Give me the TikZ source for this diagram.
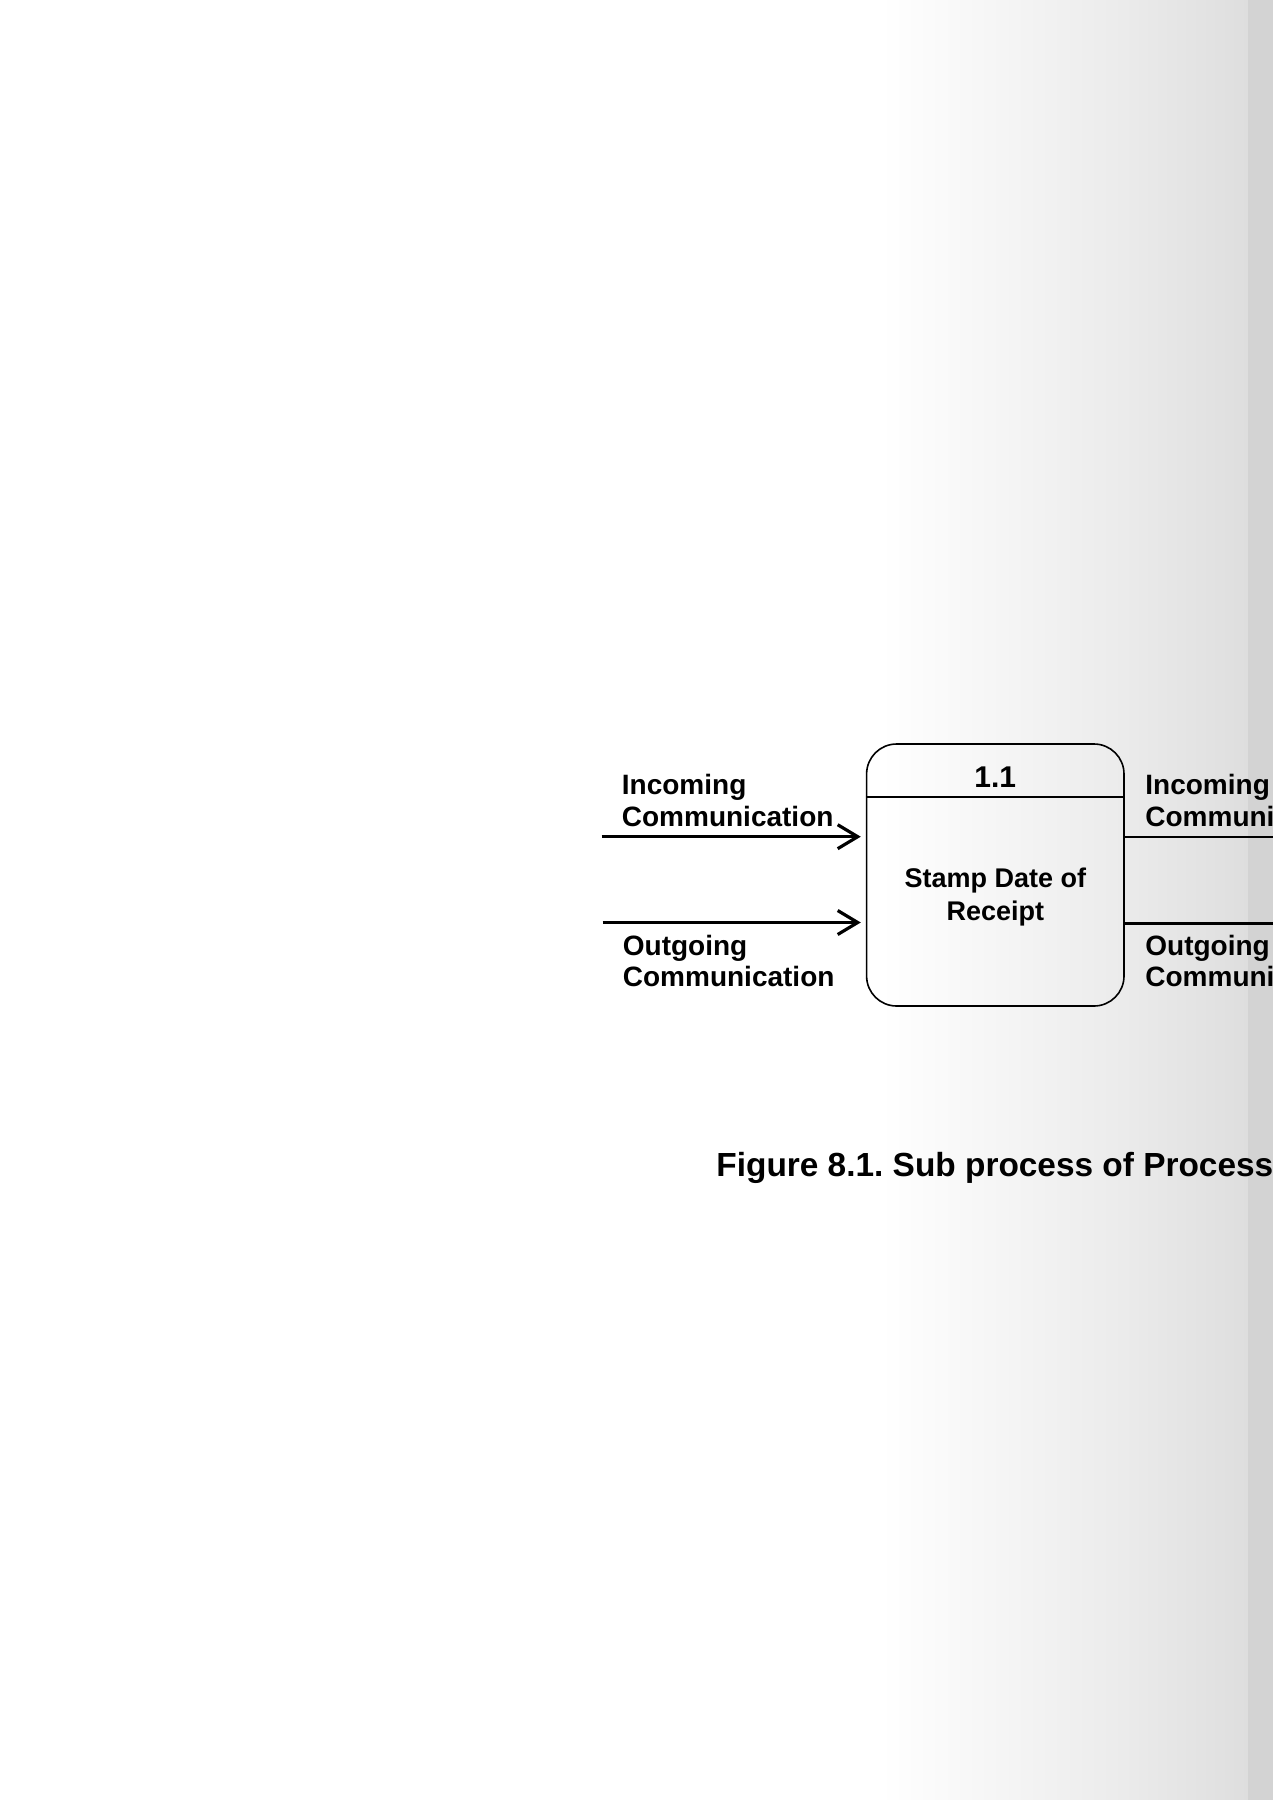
\documentclass[tikz,border=0pt]{standalone}
\usepackage{fontspec}
\setmainfont{Liberation Sans}
\usetikzlibrary{arrows.meta}
\definecolor{shadeA}{HTML}{EBEBEB}
\definecolor{shadeB}{HTML}{DEDEDE}
\definecolor{shadeC}{HTML}{D3D3D3}
\frenchspacing
\begin{document}
\begin{tikzpicture}[x=0.5pt,y=-0.5pt,
  flowlabel/.style={font=\fontsize{14pt}{15.75pt}\selectfont\bfseries, align=left, inner sep=0pt, anchor=north west},
  procbox/.style={draw, line width=0.8pt, rounded corners=15pt, minimum width=128.7pt, minimum height=131pt, inner sep=0pt},
  numstyle/.style={font=\fontsize{15pt}{18pt}\selectfont\bfseries, inner sep=0pt},
  namestyle/.style={font=\fontsize{13.5pt}{16.5pt}\selectfont\bfseries, align=center, inner sep=0pt},
  captionstyle/.style={font=\fontsize{16.7pt}{19pt}\selectfont\bfseries, inner sep=0pt},
  flowarrow/.style={line width=1.6pt, -{Straight Barb[length=10pt,width=12pt,line width=1.6pt]}, shorten >=2.5pt},
  flowline/.style={line width=1.3pt},
]
\useasboundingbox (0,0) rectangle (1273,1800);
\clip (0,0) rectangle (1273,1800);
\fill[white] (0,0) rectangle (1273,1800);
\shade[left color=white, right color=shadeA] (880,0) rectangle (1124,1800);
\shade[left color=shadeA, right color=shadeB] (1124,0) rectangle (1248,1800);
\fill[shadeC] (1248,0) rectangle (1273,1800);

\node[procbox] (p) at (995.3,875) {};
\draw[line width=0.8pt] ([yshift=-27pt]p.north west) -- ([yshift=-27pt]p.north east);
\node[numstyle, anchor=base] (num) at (995.3,787) {1.1};
\node[namestyle, anchor=north] (name) at (995.3,868) {Stamp Date of\\Receipt};

\coordinate (inL) at (601.5,836.7);
\coordinate (outL) at (602.5,922.5);
\coordinate (inR) at (1290,837);
\coordinate (outR) at (1290,923.5);
\draw[flowarrow] (inL) -- (p.west |- inL);
\draw[flowarrow] (outL) -- (p.west |- outL);
\draw[flowline] (p.east |- inR) -- (inR);
\draw[flowline] (p.east |- outR) -- (outR);

\node[flowlabel] (inLlab) at (621.5,774) {Incoming\\Communication};
\node[flowlabel] (outLlab) at (622.5,934.5) {Outgoing\\Communication};
\node[flowlabel] (inRlab) at (1145,774) {Incoming\\Communication};
\node[flowlabel] (outRlab) at (1145,934.5) {Outgoing\\Communication};

\node[captionstyle, anchor=base west] (cap) at (716,1176) {Figure 8.1. Sub process of Process};
\end{tikzpicture}
\end{document}
